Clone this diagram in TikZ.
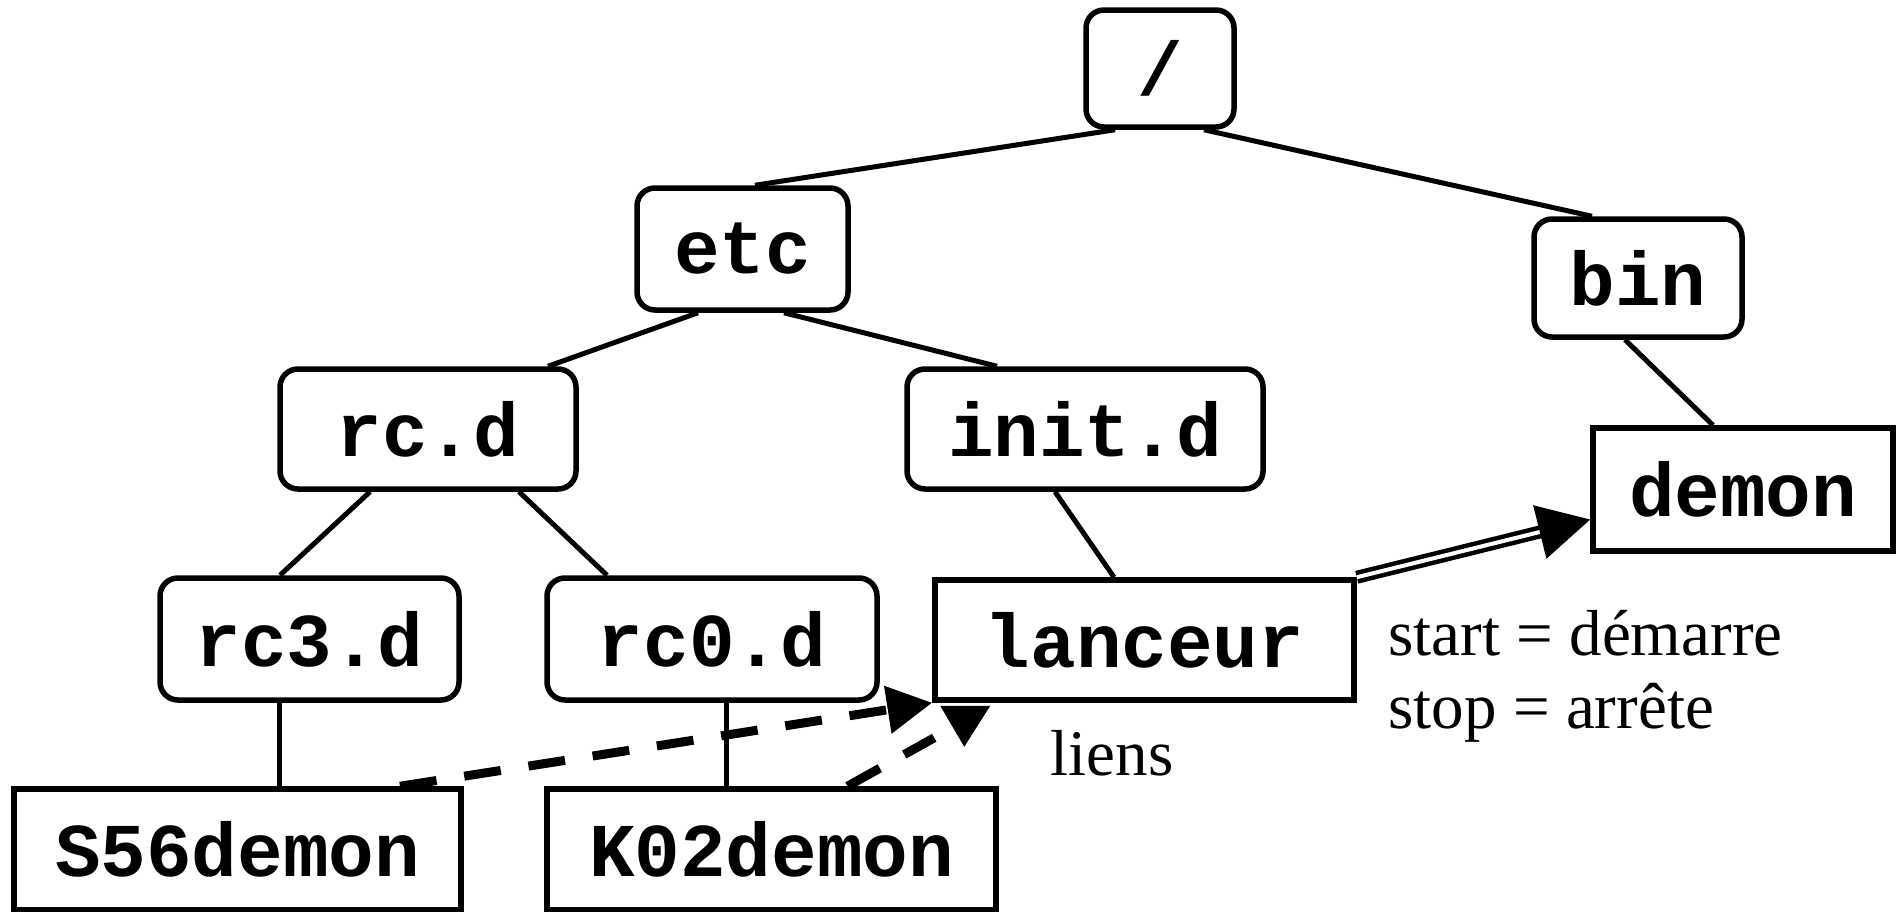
\documentclass[tikz,border=0pt]{standalone}
\usepackage{fontspec}
\setmainfont{Liberation Serif}
\setmonofont{Liberation Mono}
\usetikzlibrary{arrows.meta,calc}
\begin{document}
\begin{tikzpicture}[x=1pt,y=-1pt,
  boxfont/.style={font=\fontsize{76}{76}\selectfont\ttfamily\bfseries},
  dirbox/.style={draw,line width=5.5pt,rounded corners=18pt,boxfont,inner sep=0pt},
  filebox/.style={draw,line width=5.5pt,boxfont,inner sep=0pt},
  tree/.style={line width=5pt},
  lien/.style={line width=9pt,dash pattern=on 37pt off 28pt},
  liena/.style={lien,-{Triangle[length=45pt,width=46pt]}},
  labelfont/.style={font=\fontsize{65}{73}\selectfont},
  ]
\useasboundingbox (0,0) rectangle (1901,911);
% directories
\node[dirbox,minimum width=148pt,minimum height=117pt] (root) at (1160,68.5) {/};
\node[dirbox,minimum width=211pt,minimum height=122pt] (etc) at (742.5,249) {etc};
\node[dirbox,minimum width=208pt,minimum height=118pt] (bin) at (1638,278) {bin};
\node[dirbox,minimum width=296pt,minimum height=120pt] (rcd) at (428,429) {rc.d};
\node[dirbox,minimum width=356pt,minimum height=120pt] (initd) at (1085,429) {init.d};
\node[dirbox,minimum width=299pt,minimum height=122pt] (rc3) at (309.5,639) {rc3.d};
\node[dirbox,minimum width=330pt,minimum height=122pt] (rc0) at (712,639) {rc0.d};
% files
\node[filebox,minimum width=419pt,minimum height=120pt] (lanceur) at (1144.5,640) {lanceur};
\node[filebox,minimum width=300pt,minimum height=123pt] (demon) at (1743,489.5) {demon};
\node[filebox,minimum width=447pt,minimum height=121pt] (s56) at (237.5,849.5) {S56demon};
\node[filebox,minimum width=449pt,minimum height=121pt] (k02) at (771.5,849.5) {K02demon};
% labels
\node[labelfont,anchor=base] (liens) at (1112,775) {liens};
\node[labelfont,anchor=base west] (start) at (1385,655) {start = démarre};
\node[labelfont,anchor=base west] (stop) at (1385,728) {stop = arrête};
% tree edges
\draw[tree] ([xshift=-45pt]root.south) -- ([xshift=12.5pt]etc.north);
\draw[tree] ([xshift=44pt]root.south) -- ([xshift=-46pt]bin.north);
\draw[tree] ([xshift=-44.5pt]etc.south) -- ([xshift=120pt]rcd.north);
\draw[tree] ([xshift=41.5pt]etc.south) -- ([xshift=-88pt]initd.north);
\draw[tree] ([xshift=-13pt]bin.south) -- ([xshift=-30pt]demon.north);
\draw[tree] ([xshift=-58pt]rcd.south) -- ([xshift=-29.5pt]rc3.north);
\draw[tree] ([xshift=91pt]rcd.south) -- ([xshift=-105pt]rc0.north);
\draw[tree] ([xshift=-30pt]initd.south) -- ([xshift=-30.5pt]lanceur.north);
\draw[tree] ([xshift=-30.5pt]rc3.south) -- ([xshift=41.5pt]s56.north);
\draw[tree] ([xshift=14pt]rc0.south) -- ([xshift=-45.5pt]k02.north);
% launcher arrow
\draw[line width=4.5pt,double,double distance=4pt,-{Triangle[length=52pt,width=54pt]}]
  (lanceur.north east) -- ([yshift=-30pt]demon.west);
% links
\draw[liena] ([xshift=162.5pt]s56.north) -- (lanceur.south west);
\coordinate (k02end) at ([xshift=2pt,yshift=-35pt]lanceur.south west);
\draw[lien] ([xshift=76pt]k02.north) -- (k02end);
\fill ([xshift=8pt,yshift=-3pt]lanceur.south west) -- ([xshift=58pt,yshift=-3pt]lanceur.south west)
  -- ([xshift=32pt,yshift=-44pt]lanceur.south west) -- cycle;
\end{tikzpicture}
\end{document}
